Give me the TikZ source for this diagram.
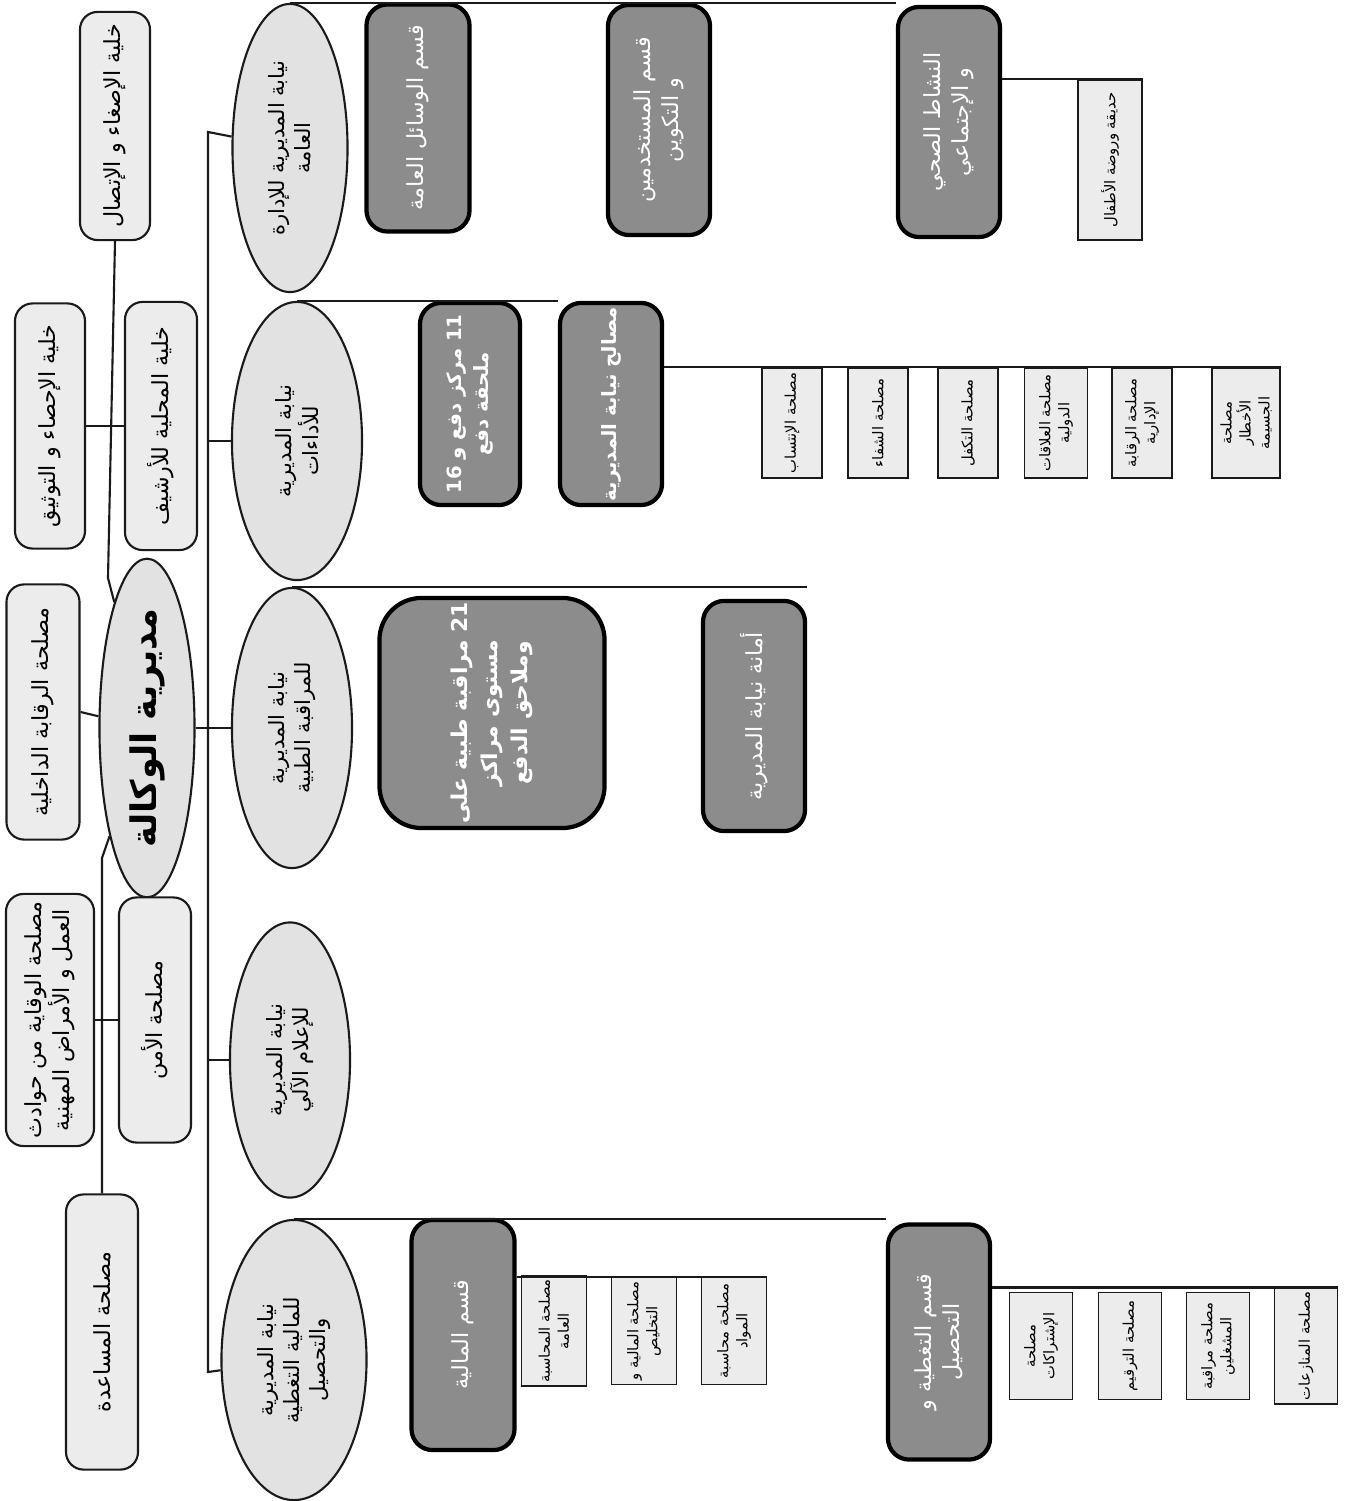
\documentclass[tikz,border=0pt]{standalone}
\usepackage{fontspec}
\usepackage{tikz}
\usetikzlibrary{shapes.geometric}
\newfontfamily\arabicfont[Script=Arabic]{DejaVu Sans}
\TeXXeTstate=1
\newcommand{\ar}[1]{\beginR #1\endR}
\newcommand{\nb}[1]{\beginL #1\endL{}}
\definecolor{cellfill}{HTML}{ECECEC}
\definecolor{ovalfill}{HTML}{E2E2E2}
\definecolor{deptfill}{HTML}{8C8C8C}
\definecolor{inkline}{HTML}{1A1A1A}

\begin{document}
\begin{tikzpicture}[
  x=0.01cm,y=-0.01cm,
  cell/.style={draw=inkline,line width=0.6pt,rounded corners=5pt,fill=cellfill,
    rotate=90,align=center,inner sep=1pt,font=\arabicfont\fontsize{6.3}{7.8}\selectfont},
  head/.style={ellipse,draw=inkline,line width=0.6pt,fill=ovalfill,rotate=90,
    align=center,inner sep=0pt,font=\arabicfont\bfseries\fontsize{10}{12}\selectfont},
  deputy/.style={ellipse,draw=inkline,line width=0.6pt,fill=ovalfill,rotate=90,
    align=center,inner sep=0pt,font=\arabicfont\fontsize{6}{7.5}\selectfont},
  dept/.style={draw=black,line width=1.2pt,rounded corners=6pt,fill=deptfill,
    text=white,rotate=90,align=center,inner sep=1pt,
    font=\arabicfont\fontsize{6.3}{8}\selectfont},
  strong/.style={font=\arabicfont\bfseries\fontsize{5.6}{7.6}\selectfont},
  unit/.style={draw=inkline,line width=0.5pt,fill=cellfill,rotate=90,align=center,
    inner sep=1pt,minimum width=1.1cm,minimum height=0.6cm,
    font=\arabicfont\fontsize{4.2}{5.4}\selectfont},
  link/.style={draw=inkline,line width=0.6pt}
]
\useasboundingbox (0,0) rectangle (1349,1501);

% staff cells on the left
\node[cell,minimum width=2.28cm,minimum height=0.7cm] (ecoute) at (115,126) {\ar{خلية الإصغاء و الإتصال}};
\node[cell,minimum width=2.45cm,minimum height=0.7cm] (stat) at (50,426) {\ar{خلية الإحصاء و التوثيق}};
\node[cell,minimum width=2.48cm,minimum height=0.72cm] (archive) at (161,426) {\ar{خلية المحلية للأرشيف}};
\node[cell,minimum width=2.55cm,minimum height=0.73cm] (audit) at (43,712) {\ar{مصلحة الرقابة الداخلية}};
\node[head,minimum width=2.8cm,minimum height=0.95cm] (agence) at (147,728) {\ar{مديرية الوكالة}};
\node[cell,minimum width=2.52cm,minimum height=0.88cm] (prevention) at (50,1020) {\ar{مصلحة الوقاية من حوادث}\\\ar{العمل و الأمراض المهنية}};
\node[cell,minimum width=2.45cm,minimum height=0.72cm] (securite) at (155,1020) {\ar{مصلحة الأمن}};
\node[cell,minimum width=2.75cm,minimum height=0.72cm] (aide) at (102,1332) {\ar{مصلحة المساعدة}};

\coordinate (bendtop) at (108,578);
\coordinate (bendbot) at (102,858);
\draw[link] (ecoute.west) -- (bendtop) -- (agence);
\draw[link] (stat) -- (archive);
\draw[link] (audit.south) -- (agence);
\draw[link] (agence) -- (bendbot) -- (aide.east);
\draw[link] (prevention) -- (securite);

% deputy directorates
\node[deputy,minimum width=2.88cm,minimum height=1.15cm] (admin) at (290,148) {\ar{نيابة المديرية للإدارة}\\\ar{العامة}};
\node[deputy,minimum width=2.78cm,minimum height=1.3cm] (prest) at (297,441) {\ar{نيابة المديرية}\\\ar{للأداءات}};
\node[deputy,minimum width=2.8cm,minimum height=1.2cm] (medic) at (292,728) {\ar{نيابة المديرية}\\\ar{للمراقبة الطبية}};
\node[deputy,minimum width=2.75cm,minimum height=1.2cm] (info) at (290,1060) {\ar{نيابة المديرية}\\\ar{للإعلام الآلي}};
\node[deputy,minimum width=2.8cm,minimum height=1.45cm] (finance) at (294,1360) {\ar{نيابة المديرية}\\\ar{للمالية التغطية}\\\ar{والتحصيل}};

\coordinate (spinetop) at (208,132);
\coordinate (spinebot) at (208,1372);
\draw[link] (admin) -- (spinetop) -- (spinebot) -- (finance);
\draw[link] (agence) -- (medic);
\draw[link] (prest) -- (prest -| spinetop);
\draw[link] (info) -- (info -| spinetop);

% general administration
\node[dept,minimum width=2.27cm,minimum height=1.03cm] (wasail) at (418,118) {\ar{قسم الوسائل العامة}};
\node[dept,minimum width=2.3cm,minimum height=1.02cm] (staff) at (659,120) {\ar{قسم المستخدمين}\\\ar{و التكوين}};
\node[dept,minimum width=2.3cm,minimum height=1.02cm] (social) at (949,122) {\ar{النشاط الصحي}\\\ar{و الإجتماعي}};
\node[unit,minimum width=1.6cm,minimum height=0.64cm] (kinder) at (1110,160) {\ar{حديقة وروضة الأطفال}};
\draw[link] (admin.east) -- (admin.east -| social.north east);
\draw[link] (social.south |- kinder.south east) -- (kinder.south east);

% benefits
\node[dept,strong,minimum width=2.02cm,minimum height=1cm] (markaz) at (470,404) {\ar{\nb{11} مركز دفع و \nb{16}}\\\ar{ملحقة دفع}};
\node[dept,strong,minimum width=2.02cm,minimum height=1.02cm] (masalih) at (611,404) {\ar{مصالح نيابة المديرية}};
\draw[link] (prest.east) -- (prest.east -| masalih.north east);
\node[unit] (intisab) at (792,423) {\ar{مصلحة الإنتساب}};
\node[unit] (shifa) at (878,423) {\ar{مصلحة الشفاء}};
\node[unit] (takaful) at (968,423) {\ar{مصلحة التكفل}};
\node[unit,minimum height=0.63cm] (dawli) at (1056,423) {\ar{مصلحة العلاقات}\\\ar{الدولية}};
\node[unit] (idari) at (1142,423) {\ar{مصلحة الرقابة}\\\ar{الإدارية}};
\node[unit,minimum height=0.68cm] (akhtar) at (1246,423) {\ar{مصلحة}\\\ar{الأخطار}\\\ar{الجسيمة}};
\draw[link] (masalih.south |- akhtar.south east) -- (akhtar.south east);

% medical control
\node[dept,strong,rounded corners=12pt,minimum width=2.3cm,minimum height=2.25cm,font=\arabicfont\bfseries\fontsize{6.2}{8.5}\selectfont] (muraqaba) at (492,713) {\ar{\nb{21} مراقبة طبية على}\\\ar{مستوى مراكز}\\\ar{وملاحق الدفع}};
\node[dept,minimum width=2.3cm,minimum height=1.02cm] (amana) at (754,716) {\ar{أمانة نيابة المديرية}};
\draw[link] (medic.east) -- (medic.east -| amana.south east);

% finance and collection
\node[dept,minimum width=2.3cm,minimum height=1.03cm] (maliya) at (463,1335) {\ar{قسم المالية}};
\node[dept,minimum width=2.35cm,minimum height=1.02cm] (taghtiya) at (939,1342) {\ar{قسم التغطية و}\\\ar{التحصيل}};
\draw[link] (finance.east) -- (finance.east -| taghtiya.north east);
\node[unit,minimum width=1.07cm,minimum height=0.65cm] (muhasaba) at (554,1331) {\ar{مصلحة المحاسبة}\\\ar{العامة}};
\node[unit,minimum width=1.07cm,minimum height=0.65cm] (takhlis) at (644,1331) {\ar{مصلحة المالية و}\\\ar{التخليص}};
\node[unit,minimum width=1.07cm,minimum height=0.65cm] (mawad) at (734,1331) {\ar{مصلحة محاسبة}\\\ar{المواد}};
\draw[link] (maliya.south |- mawad.south east) -- (mawad.south east);
\node[unit,minimum width=1.07cm,minimum height=0.63cm] (ishtirak) at (1041,1346) {\ar{مصلحة}\\\ar{الإشتراكات}};
\node[unit,minimum width=1.07cm,minimum height=0.63cm] (tarqim) at (1130,1346) {\ar{مصلحة الترقيم}};
\node[unit,minimum width=1.07cm,minimum height=0.63cm] (mushaghil) at (1218,1346) {\ar{مصلحة مراقبة}\\\ar{المشغلين}};
\node[unit,minimum width=1.07cm,minimum height=0.63cm] (nizaa) at (1306,1346) {\ar{مصلحة المنازعات}};
\draw[link] (taghtiya.south |- nizaa.south east) -- (nizaa.south east);
\end{tikzpicture}
\end{document}
